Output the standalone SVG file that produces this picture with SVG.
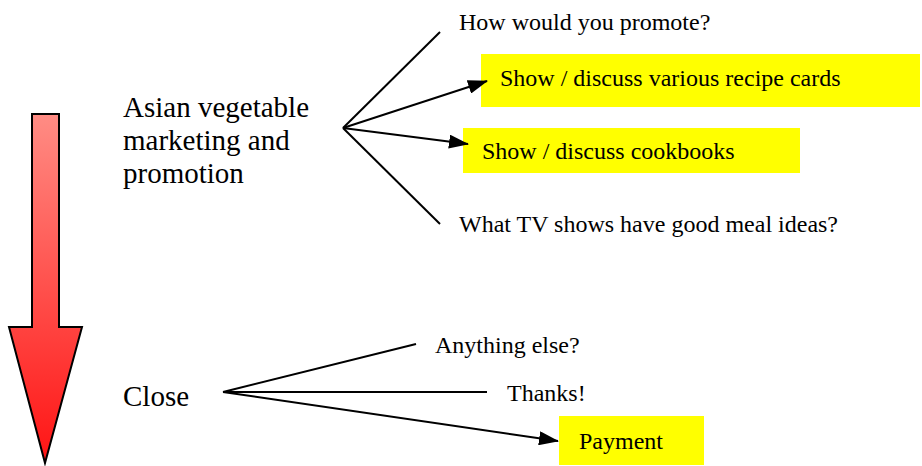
<svg xmlns="http://www.w3.org/2000/svg" width="922" height="466" viewBox="0 0 922 466">
<style>
text{font-family:"Liberation Serif","Times New Roman",serif;fill:#000}
.s{font-size:24px}
.l{font-size:29px}
.c{stroke:#000;stroke-width:2;fill:none}
.hl{fill:#ffff00}
</style>
<defs>
<linearGradient id="g" x1="0" y1="0" x2="0" y2="1">
<stop offset="0" stop-color="#ff8c84"/>
<stop offset="1" stop-color="#ff1414"/>
</linearGradient>
<marker id="ah2" markerWidth="20" markerHeight="14" refX="19" refY="7" orient="auto" markerUnits="userSpaceOnUse" viewBox="0 0 20 14">
<path d="M0,0 L20,7 L0,14 Z" fill="#000"/>
</marker>
</defs>
<g id="flow-arrow">
<path d="M32,114 L59,114 L59,327 L82,327 L45,463 L9,327 L32,327 Z" fill="url(#g)" stroke="#000" stroke-width="2" stroke-linejoin="miter"/>
</g>
<g id="topic">
<text class="l" x="123" y="117">Asian vegetable</text>
<text class="l" x="123" y="150">marketing and</text>
<text class="l" x="123" y="183">promotion</text>
</g>
<g id="q-promote"><text class="s" x="459" y="30">How would you promote?</text></g>
<g id="recipe-cards">
<rect class="hl" x="481" y="54" width="439" height="53"/>
<text class="s" x="500" y="86">Show / discuss various recipe cards</text>
</g>
<g id="cookbooks">
<rect class="hl" x="463" y="128" width="337" height="45"/>
<text class="s" x="482" y="159">Show / discuss cookbooks</text>
</g>
<g id="q-tv"><text class="s" x="459" y="232">What TV shows have good meal ideas?</text></g>
<g id="close"><text class="l" x="123" y="406">Close</text></g>
<g id="anything-else"><text class="s" x="435" y="353">Anything else?</text></g>
<g id="thanks"><text class="s" x="507" y="401">Thanks!</text></g>
<g id="payment">
<rect class="hl" x="559" y="416" width="145" height="49"/>
<text class="s" x="579" y="449">Payment</text>
</g>
<g id="connectors">
<line class="c" x1="343" y1="128" x2="440" y2="32" stroke-width="1.5"/>
<line class="c" x1="343" y1="128" x2="440" y2="224" stroke-width="1.5"/>
<line class="c" x1="343" y1="128" x2="487" y2="81" stroke-width="2.5" marker-end="url(#ah2)"/>
<line class="c" x1="343" y1="128" x2="468" y2="144" stroke-width="2.5" marker-end="url(#ah2)"/>
<line class="c" x1="223" y1="392" x2="416" y2="344"/>
<line class="c" x1="223" y1="392" x2="487" y2="392"/>
<line class="c" x1="223" y1="392" x2="558" y2="441" stroke-width="2.5" marker-end="url(#ah2)"/>
</g>
</svg>
